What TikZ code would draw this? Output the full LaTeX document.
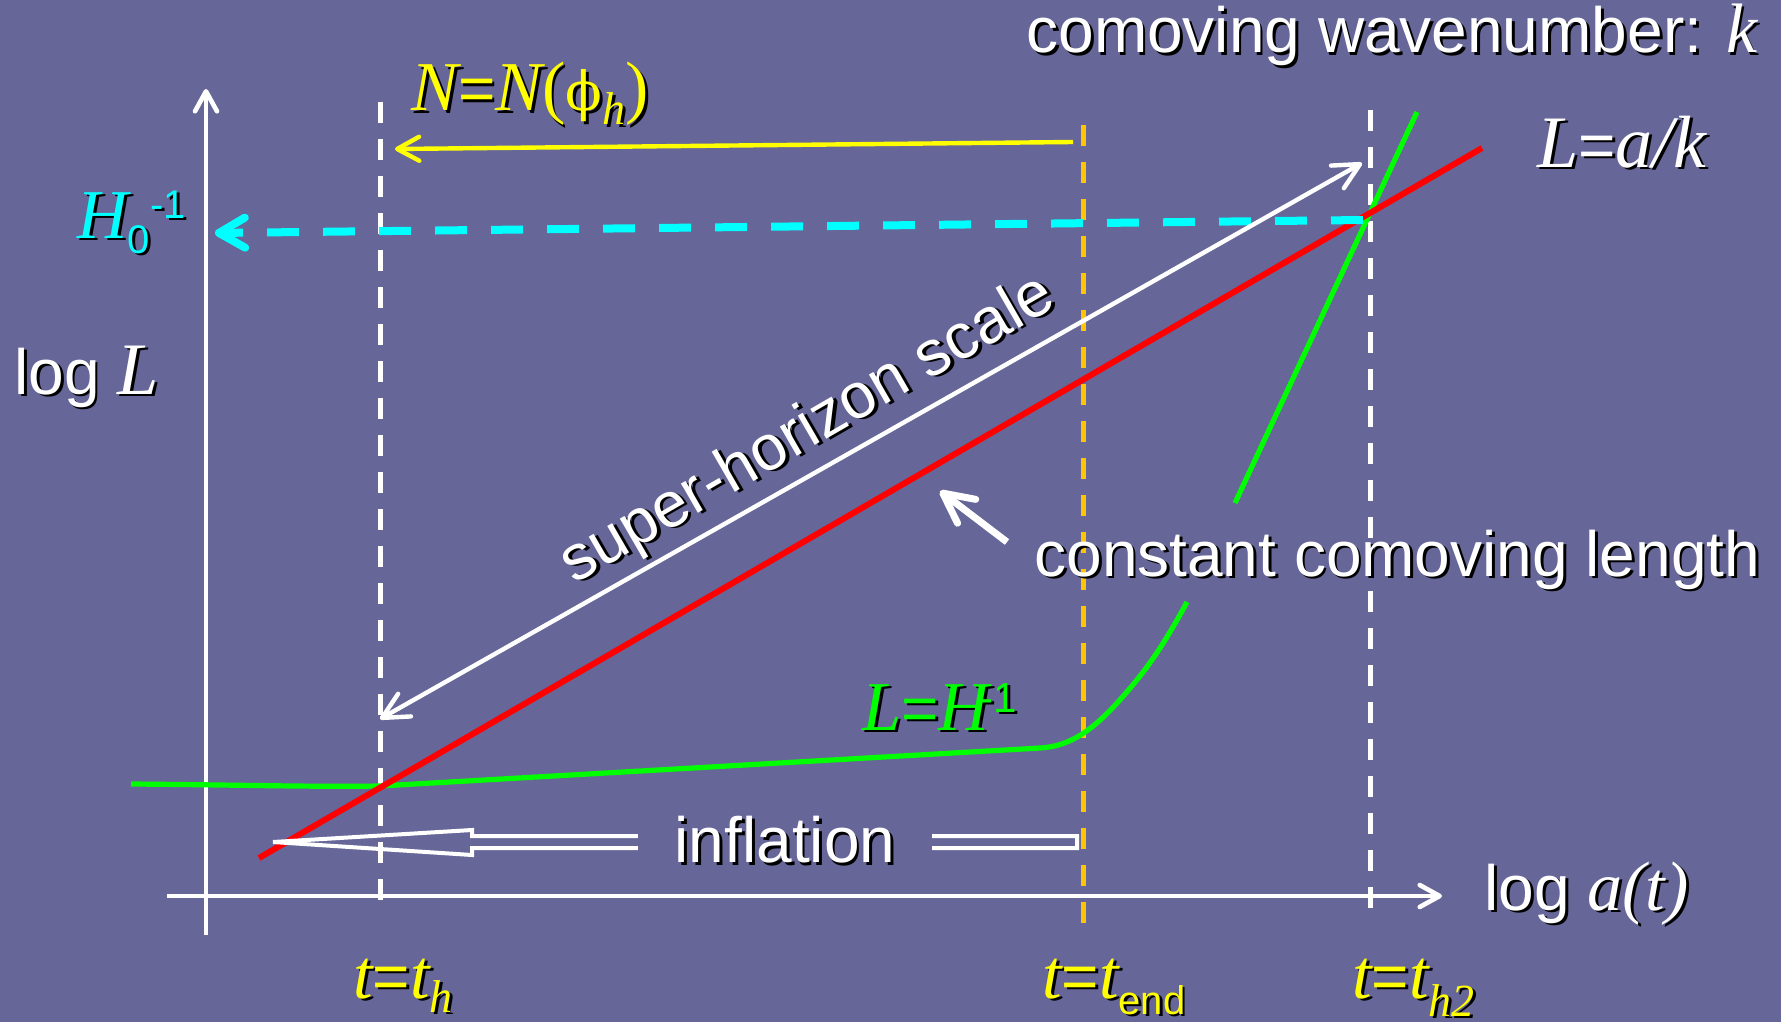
\documentclass[tikz,border=0pt]{standalone}
\usepackage{fontspec}
\setmainfont{Liberation Sans}
\newfontfamily\tnr{Liberation Serif}
\newfontfamily\djs{DejaVu Serif}
\usetikzlibrary{arrows.meta}
\definecolor{bg}{HTML}{666699}
\definecolor{cyanc}{HTML}{00FFFF}
\definecolor{yel}{HTML}{FFFF00}
\definecolor{orng}{HTML}{FFC600}
\definecolor{grn}{HTML}{00FF00}
\definecolor{redc}{HTML}{FF0000}
\newcommand\shd[1]{\leavevmode\rlap{\kern1.4pt\raisebox{-1.4pt}{\color{black}#1}}#1}
\newcommand\vi[1]{{\fontsize{35}{40}\tnr\itshape #1}}
\newcommand\vb[1]{{\fontsize{37}{42}\tnr\itshape #1}}
\begin{document}
\begin{tikzpicture}[x=0.5pt,y=-0.5pt,
  vdash/.style={line width=2.5pt, dash pattern=on 10.5pt off 8pt},
  axisline/.style={white, line width=2.3pt, -{Straight Barb[length=10pt,width=11pt,round]}},
  lbl/.style={inner sep=0pt, anchor=base west, text=white, font=\fontsize{32}{38}\selectfont},
  ctr/.style={inner sep=0pt, text=white, font=\fontsize{32}{38}\selectfont}]
\fill[bg] (0,0) rectangle (1781,1022);
\useasboundingbox (0,0) rectangle (1781,1022);
% coordinates
\coordinate (vL1) at (380,102); \coordinate (vL2) at (380,910);
\coordinate (vO1) at (1083,125); \coordinate (vO2) at (1083,930);
\coordinate (vR1) at (1370,110); \coordinate (vR2) at (1370,915);
\coordinate (yb) at (206,935); \coordinate (yt) at (206,89);
\coordinate (xl) at (167,896); \coordinate (xr) at (1442,896);
\coordinate (r1) at (259,858); \coordinate (r2) at (1482,148);
\coordinate (ys) at (1073,142); \coordinate (ye) at (395,149);
\coordinate (cs) at (1363,220); \coordinate (ce) at (215,233);
\coordinate (w1) at (380,719); \coordinate (w2) at (1362,163);
\coordinate (ca1) at (1007,542); \coordinate (ca2) at (940,491);
% dashed verticals
\draw[vdash, white] (vL1) -- (vL2);
\draw[vdash, orng] (vO1) -- (vO2);
\draw[vdash, white] (vR1) -- (vR2);
% axes
\draw[axisline] (yb) -- (yt);
\draw[axisline] (xl) -- (xr);
% green Hubble curve
\draw[grn, line width=2.6pt] (131,784) .. controls (250,785) and (310,787) .. (380,786)
  -- (1040,748) .. controls (1075,746) and (1100,725) .. (1136,681)
  .. controls (1155,658) and (1172,630) .. (1187,602);
\draw[grn, line width=2.6pt] (1235,503) -- (1417,112);
% red line
\draw[redc, line width=3pt] (r1) -- (r2);
% yellow arrow
\draw[yel, line width=2.2pt, -{Straight Barb[length=11pt,width=12pt,round]}] (ys) -- (ye);
% cyan dashed arrow
\draw[cyanc, line width=4pt, dash pattern=on 16pt off 12pt, -{Straight Barb[length=13pt,width=15pt,round]}] (cs) -- (ce);
% super-horizon double arrow
\draw[white, line width=2.2pt, {Straight Barb[length=13pt,width=13pt,round]}-{Straight Barb[length=13pt,width=13pt,round]}] (w1) -- (w2);
% constant comoving length pointer
\draw[white, line width=3.5pt, -{Straight Barb[length=15pt,width=15pt,round]}] (ca1) -- (ca2);
% hollow inflation arrow
\draw[white, line width=2pt] (273,842) -- (472,830) -- (472,836) -- (1077,836) -- (1077,848) -- (472,848) -- (472,855) -- cycle;
\node[ctr, fill=bg, inner xsep=18.5pt, inner ysep=4pt] (infl) at (785,841) {\shd{inflation}};
% labels
\node[lbl] (kw) at (1026,53) {\shd{comoving wavenumber: \vi{k}}};
\node[lbl, text=yel] (nn) at (411,111) {\shd{\vi{N}=\vi{N}{\fontsize{35}{40}\tnr(}{\fontsize{27}{27}\djs ϕ}\raisebox{-7pt}{\fontsize{23}{23}\tnr\itshape h}{\fontsize{35}{40}\tnr)}}};
\node[lbl, text=cyanc] (h0) at (77,238) {\shd{\vi{H}\raisebox{-7.5pt}{\fontsize{20}{20}\selectfont 0}\raisebox{10pt}{\fontsize{20}{20}\selectfont -1}}};
\node[lbl] (logL) at (14,394) {\shd{log \vb{L}}};
\node[lbl] (lak) at (1537,167) {\shd{\vb{L}=\vb{a/k}}};
\node[ctr, rotate=30] (shs) at (809,432) {\shd{super-horizon scale}};
\node[lbl] (ccl) at (1034,576) {\shd{constant comoving length}};
\node[lbl, text=grn] (lh) at (862,730) {\shd{\vi{L}=\vi{H}\kern-5pt\raisebox{9pt}{\fontsize{21}{21}\selectfont -1}}};
\node[lbl] (lat) at (1484,910) {\shd{log \vi{a(t)}}};
\node[lbl, text=yel] (th) at (353,998) {\shd{\vi{t}=\vi{t}\raisebox{-7pt}{\fontsize{23}{23}\tnr\itshape h}}};
\node[lbl, text=yel] (te) at (1042,998) {\shd{\vi{t}=\vi{t}\raisebox{-8pt}{\fontsize{20}{20}\selectfont end}}};
\node[lbl, text=yel] (th2) at (1352,998) {\shd{\vi{t}=\vi{t}\raisebox{-9pt}{\fontsize{23}{23}\tnr\itshape h2}}};
\end{tikzpicture}
\end{document}
